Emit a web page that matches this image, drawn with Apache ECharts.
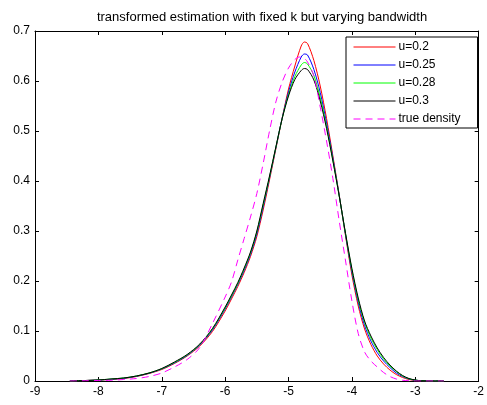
<!DOCTYPE html>
<html>
<head>
<meta charset="utf-8">
<script src="https://cdn.jsdelivr.net/npm/echarts@6/dist/echarts.min.js"></script>
<style>
html,body{margin:0;padding:0;background:#fff;}
#c{width:487px;height:405px;}
</style>
</head>
<body>
<div id="c"></div>
<script>
const xs = [-8.45,-8.2,-8.0,-7.8,-7.6,-7.4,-7.2,-7.0,-6.8,-6.6,-6.4,-6.2,-6.0,-5.9,-5.8,-5.7,-5.6,-5.5,-5.4,-5.3,-5.2,-5.1,-5.0,-4.9,-4.8,-4.75,-4.7,-4.6,-4.5,-4.4,-4.3,-4.2,-4.1,-4.0,-3.9,-3.8,-3.7,-3.6,-3.5,-3.4,-3.3,-3.2,-3.1,-3.0,-2.9,-2.7,-2.55];
const u02 = [0,0.001,0.002,0.003,0.005,0.009,0.015,0.023,0.035,0.050,0.070,0.099,0.140,0.164,0.189,0.217,0.249,0.289,0.342,0.402,0.464,0.526,0.584,0.630,0.670,0.678,0.675,0.641,0.590,0.525,0.450,0.372,0.290,0.212,0.150,0.104,0.073,0.050,0.034,0.022,0.013,0.007,0.003,0.001,0.0003,0,0];
const u025 = [0,0.001,0.002,0.0035,0.0055,0.0095,0.0155,0.024,0.036,0.051,0.072,0.102,0.144,0.168,0.193,0.221,0.253,0.294,0.348,0.406,0.466,0.526,0.578,0.618,0.648,0.654,0.652,0.623,0.577,0.516,0.446,0.371,0.292,0.218,0.157,0.111,0.080,0.057,0.040,0.027,0.016,0.009,0.004,0.0015,0.0004,0,0];
const u028 = [0,0.001,0.002,0.004,0.006,0.010,0.016,0.0245,0.037,0.052,0.073,0.104,0.146,0.170,0.195,0.224,0.256,0.298,0.352,0.408,0.467,0.525,0.573,0.609,0.632,0.637,0.634,0.611,0.567,0.509,0.442,0.370,0.294,0.222,0.162,0.117,0.086,0.063,0.044,0.030,0.019,0.010,0.0045,0.0018,0.0005,0,0];
const u03 = [0,0.001,0.002,0.004,0.006,0.010,0.016,0.025,0.038,0.053,0.074,0.105,0.148,0.172,0.197,0.226,0.258,0.300,0.355,0.410,0.468,0.525,0.570,0.603,0.621,0.625,0.623,0.602,0.560,0.505,0.440,0.370,0.295,0.225,0.166,0.120,0.090,0.066,0.047,0.032,0.020,0.011,0.005,0.002,0.0005,0,0];
const xsTrue = [-8.45,-8.2,-8.0,-7.8,-7.6,-7.4,-7.2,-7.0,-6.8,-6.6,-6.4,-6.2,-6.0,-5.9,-5.8,-5.7,-5.6,-5.5,-5.4,-5.3,-5.2,-5.1,-5.0,-4.9,-4.83,-4.75,-4.7,-4.6,-4.5,-4.4,-4.3,-4.2,-4.1,-4.0,-3.9,-3.8,-3.7,-3.6,-3.5,-3.4,-3.3,-3.2,-3.1,-3.0,-2.55];
const trueDensity = [0,0.0005,0.001,0.0015,0.003,0.005,0.009,0.016,0.028,0.043,0.067,0.115,0.168,0.198,0.242,0.285,0.328,0.375,0.435,0.500,0.558,0.598,0.626,0.643,0.648,0.645,0.638,0.610,0.548,0.480,0.405,0.320,0.240,0.160,0.095,0.058,0.040,0.028,0.017,0.009,0.004,0.0015,0.0005,0,0];
const xTicks = [-9,-8,-7,-6,-5,-4,-3,-2];
const yTicks = [0,0.1,0.2,0.3,0.4,0.5,0.6,0.7];

const names = ['u=0.2','u=0.25','u=0.28','u=0.3','true density'];
const colors = ['#ff0000','#0000ff','#00ff00','#000000','#ff00ff'];
const font = "'Liberation Sans', Arial, Helvetica, sans-serif";

function pairs(x, y){ return x.map((v,i)=>[v,y[i]]); }
const sets = [pairs(xs,u02), pairs(xs,u025), pairs(xs,u028), pairs(xs,u03), pairs(xsTrue,trueDensity)];

const chart = echarts.init(document.getElementById('c'), null, {renderer:'canvas'});
function axisCommon(){
  return {
    axisLine:{show:true, onZero:false, lineStyle:{color:'#000', width:1}},
    axisTick:{show:true, inside:true, length:4, lineStyle:{color:'#000'}},
    splitLine:{show:false}
  };
}
chart.setOption({
  animation:false,
  backgroundColor:'#fff',
  title:{
    text:'transformed estimation with fixed k but varying bandwidth',
    left:257, top:6, textAlign:'center',
    textStyle:{fontFamily:font, fontSize:13, fontWeight:'normal', color:'#000'}
  },
  legend:{
    orient:'vertical', left:346, top:37,
    padding:[4,17,3,7],
    itemWidth:42, itemHeight:14, itemGap:6,
    backgroundColor:'#fff', borderColor:'#000', borderWidth:1, borderRadius:0,
    itemStyle:{opacity:0, borderWidth:0},
    lineStyle:{width:1},
    textStyle:{fontFamily:font, fontSize:12, color:'#000', padding:[0,0,0,-2]},
    data:names
  },
  grid:{left:35, right:4, top:31, bottom:24, show:false},
  xAxis:[
    Object.assign({type:'value', min:-9, max:-2, interval:1, position:'bottom',
      axisLabel:{show:true, margin:5, color:'#000', fontFamily:font, fontSize:12}}, axisCommon()),
    Object.assign({type:'value', min:-9, max:-2, interval:1, position:'top',
      axisLabel:{show:false}}, axisCommon())
  ],
  yAxis:[
    Object.assign({type:'value', min:0, max:0.7, interval:0.1, position:'left',
      axisLabel:{show:true, margin:5, color:'#000', fontFamily:font, fontSize:12}}, axisCommon()),
    Object.assign({type:'value', min:0, max:0.7, interval:0.1, position:'right',
      axisLabel:{show:false}}, axisCommon())
  ],
  series: sets.map((d,i)=>({
    name:names[i], type:'line', data:d, xAxisIndex:0, yAxisIndex:0,
    symbol:'none', smooth:0.3, z:2+i,
    lineStyle:{color:colors[i], width:1, type: i===4 ? [7,5] : 'solid'},
    itemStyle:{color:colors[i]}
  }))
});
</script>
</body>
</html>
